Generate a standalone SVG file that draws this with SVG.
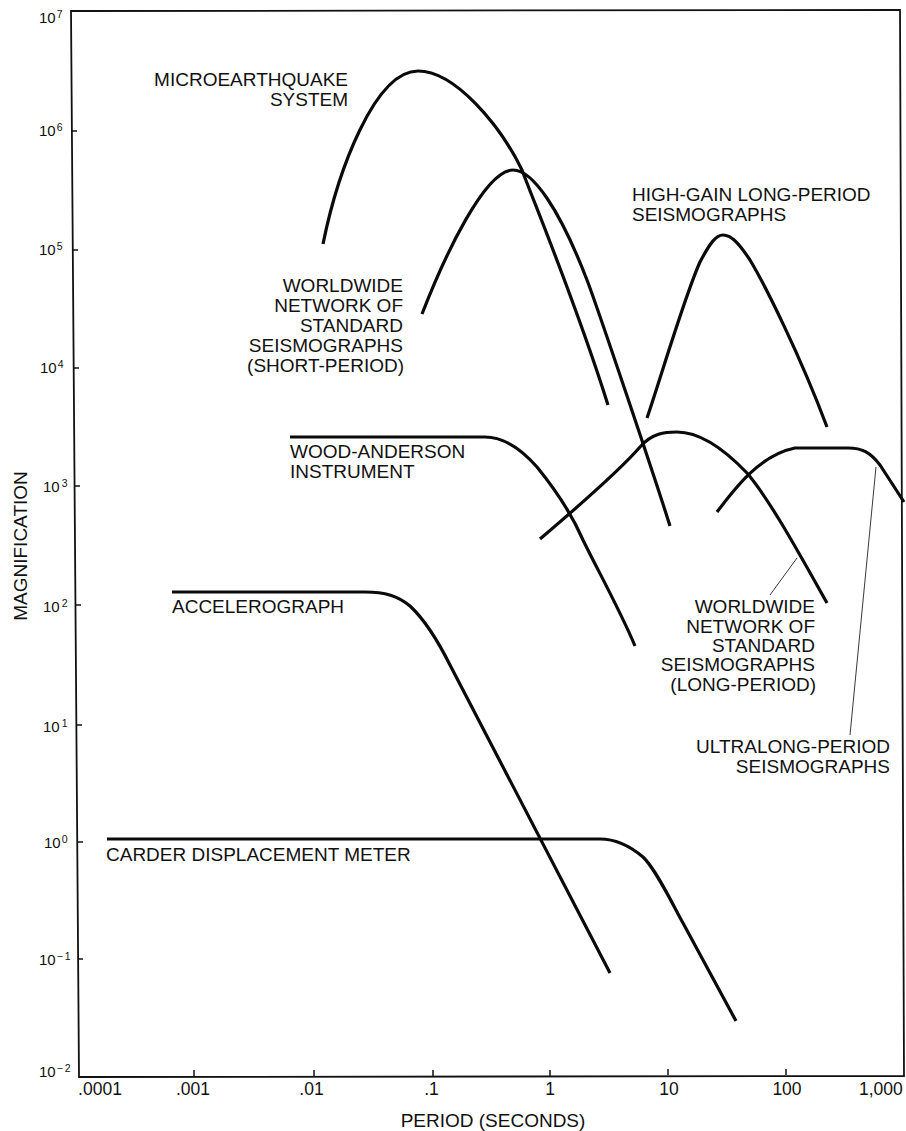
<svg xmlns="http://www.w3.org/2000/svg" width="906" height="1131" viewBox="0 0 906 1131">
<style>
  text { font-family: "Liberation Sans", Arial, Helvetica, sans-serif; fill: #111; }
  .lbl { font-size: 19px; }
  .tk { font-size: 15px; }
  .sup { font-size: 10.5px; }
  .xt { font-size: 17.5px; text-anchor: middle; }
  .curve { fill: none; stroke: #0a0a0a; stroke-width: 3.2; stroke-linecap: butt; stroke-linejoin: round; }
  .frame { fill: none; stroke: #111; stroke-width: 1.8; }
  .tick { stroke: #111; stroke-width: 1.5; }
  .leader { fill: none; stroke: #222; stroke-width: 0.9; }
  .end { text-anchor: end; }
</style>
<rect x="0" y="0" width="906" height="1131" fill="#fff"/>

<g id="axes">
  <path class="frame" d="M71,11 L900,10 L904,1076 L79,1077 Z"/>
  <g id="yticks">
    <line class="tick" x1="72" y1="131" x2="77" y2="131"/>
    <line class="tick" x1="73" y1="250" x2="78" y2="250"/>
    <line class="tick" x1="74" y1="368" x2="79" y2="368"/>
    <line class="tick" x1="75" y1="486" x2="80" y2="486"/>
    <line class="tick" x1="76" y1="605" x2="81" y2="605"/>
    <line class="tick" x1="77" y1="725" x2="82" y2="725"/>
    <line class="tick" x1="78" y1="842" x2="83" y2="842"/>
    <line class="tick" x1="78" y1="959" x2="83" y2="959"/>
  </g>
  <g id="xticks">
    <line class="tick" x1="194" y1="1076" x2="194" y2="1070"/>
    <line class="tick" x1="314" y1="1076" x2="314" y2="1070"/>
    <line class="tick" x1="433" y1="1076" x2="433" y2="1070"/>
    <line class="tick" x1="550" y1="1076" x2="550" y2="1070"/>
    <line class="tick" x1="668" y1="1075" x2="668" y2="1069"/>
    <line class="tick" x1="786" y1="1075" x2="786" y2="1069"/>
  </g>
  <g id="ylabels" class="tk">
    <text x="39" y="23">10<tspan class="sup" dx="1" dy="-5">7</tspan></text>
    <text x="39" y="136">10<tspan class="sup" dx="1" dy="-5">6</tspan></text>
    <text x="39" y="255">10<tspan class="sup" dx="1" dy="-5">5</tspan></text>
    <text x="40" y="373">10<tspan class="sup" dx="1" dy="-5">4</tspan></text>
    <text x="43" y="492">10<tspan class="sup" dx="2" dy="-5">3</tspan></text>
    <text x="43" y="612">10<tspan class="sup" dx="2" dy="-5">2</tspan></text>
    <text x="43" y="732">10<tspan class="sup" dx="2" dy="-5">1</tspan></text>
    <text x="44" y="848">10<tspan class="sup" dx="1" dy="-5">0</tspan></text>
    <text x="39" y="965">10<tspan class="sup" dx="1" dy="-5" letter-spacing="2">−1</tspan></text>
    <text x="39" y="1077">10<tspan class="sup" dx="1" dy="-5" letter-spacing="2">−2</tspan></text>
  </g>
  <g id="xlabels">
    <text class="xt" x="100" y="1095">.0001</text>
    <text class="xt" x="193" y="1095">.001</text>
    <text class="xt" x="311.5" y="1095">.01</text>
    <text class="xt" x="431.5" y="1095">.1</text>
    <text class="xt" x="550" y="1095">1</text>
    <text class="xt" x="669" y="1095">10</text>
    <text class="xt" x="787" y="1095">100</text>
    <text x="859" y="1095" style="font-size:17.5px">1,000</text>
  </g>
  <text class="lbl" x="493" y="1127" text-anchor="middle">PERIOD (SECONDS)</text>
  <text class="lbl" transform="translate(27,546) rotate(-90)" text-anchor="middle">MAGNIFICATION</text>
</g>

<g id="microearthquake">
  <path class="curve" d="M323,244 C338,170 375,71 418,71 C455,71 500,125 522,170 C533,200 575,300 608,405"/>
  <text class="lbl end" x="348" y="86">MICROEARTHQUAKE</text>
  <text class="lbl end" x="348" y="106">SYSTEM</text>
</g>

<g id="wwssn-short">
  <path class="curve" d="M422,314 C445,255 485,170 513,170 C533,170 560,210 587,280 C597,306 655,478 670,526"/>
  <text class="lbl end" x="403" y="292">WORLDWIDE</text>
  <text class="lbl end" x="403" y="312">NETWORK OF</text>
  <text class="lbl end" x="403" y="332">STANDARD</text>
  <text class="lbl end" x="403" y="352">SEISMOGRAPHS</text>
  <text class="lbl end" x="404" y="372">(SHORT-PERIOD)</text>
</g>

<g id="high-gain-lp">
  <path class="curve" d="M647,418 C660,380 685,295 700,262 C710,243 716,235 723,235 C732,235 740,245 750,260 C765,285 800,355 827,427"/>
  <text class="lbl" x="632" y="201">HIGH-GAIN LONG-PERIOD</text>
  <text class="lbl" x="632" y="221">SEISMOGRAPHS</text>
</g>

<g id="wood-anderson">
  <path class="curve" d="M290,437 L485,437 C505,437 522,450 537,467 C550,483 570,510 583,540 C595,565 620,610 635,646"/>
  <text class="lbl" x="290" y="458">WOOD-ANDERSON</text>
  <text class="lbl" x="290" y="478">INSTRUMENT</text>
</g>

<g id="wwssn-long">
  <path class="curve" d="M540,539 C580,505 620,470 640,447 C652,433 665,432 677,432 C700,432 725,450 747,473 C770,500 800,555 827,603"/>
  <text class="lbl end" x="815" y="613">WORLDWIDE</text>
  <text class="lbl end" x="815" y="632.5">NETWORK OF</text>
  <text class="lbl end" x="815" y="652">STANDARD</text>
  <text class="lbl end" x="815" y="671">SEISMOGRAPHS</text>
  <text class="lbl end" x="816" y="690.5">(LONG-PERIOD)</text>
</g>

<g id="ultralong">
  <path class="curve" d="M717,512 C735,488 760,455 795,448 L848,448 C862,448 870,452 880,465 L904,502"/>
  <text class="lbl end" x="890" y="753">ULTRALONG-PERIOD</text>
  <text class="lbl end" x="890" y="773">SEISMOGRAPHS</text>
</g>

<g id="accelerograph">
  <path class="curve" d="M172,592 L365,592 C385,592 398,596 410,606 C425,620 440,645 450,665 L610,973"/>
  <text class="lbl" x="172" y="613">ACCELEROGRAPH</text>
</g>

<g id="carder">
  <path class="curve" d="M107,839 L600,839 C615,839 630,846 643,857 C655,868 672,903 683,923 L736,1021"/>
  <text class="lbl" x="106" y="861">CARDER DISPLACEMENT METER</text>
</g>

<g id="connectors">
  <line class="leader" x1="797" y1="558" x2="770" y2="595"/>
  <line class="leader" x1="876" y1="467" x2="850" y2="735"/>
</g>
</svg>
